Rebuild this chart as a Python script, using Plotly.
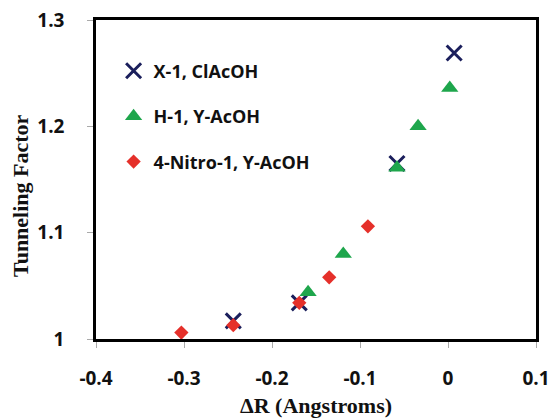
import plotly.graph_objects as go

# Tunneling factor versus change in R, three substrate/solvent series
x1_dr = [-0.244, -0.169, -0.058, 0.007]
x1_tf = [1.017, 1.034, 1.165, 1.269]

h1_dr = [-0.159, -0.119, -0.058, -0.034, 0.002]
h1_tf = [1.044, 1.080, 1.161, 1.200, 1.236]

nitro_dr = [-0.303, -0.244, -0.169, -0.135, -0.091]
nitro_tf = [1.006, 1.013, 1.034, 1.058, 1.106]

x_ticks = [-0.4, -0.3, -0.2, -0.1, 0, 0.1]
x_tick_text = ["-0.4", "-0.3", "-0.2", "-0.1", "0", "0.1"]
y_ticks = [1.0, 1.1, 1.2, 1.3]
y_tick_text = ["1", "1.1", "1.2", "1.3"]

NAVY = "#1b1f5c"
GREEN = "#1ea64c"
RED = "#e5302a"

fig = go.Figure()
fig.add_trace(go.Scatter(
    x=x1_dr, y=x1_tf, mode="markers", name="X-1, ClAcOH", legendgroup="a",
    marker=dict(symbol="x-thin", size=15, line=dict(width=3, color=NAVY), color=NAVY),
))
fig.add_trace(go.Scatter(
    x=h1_dr, y=h1_tf, mode="markers", name="H-1, Y-AcOH", legendgroup="b",
    marker=dict(symbol="triangle-up", size=15, color=GREEN, line=dict(width=0)),
))
fig.add_trace(go.Scatter(
    x=nitro_dr, y=nitro_tf, mode="markers", name="4-Nitro-1, Y-AcOH", legendgroup="c",
    marker=dict(symbol="diamond", size=11, color=RED, line=dict(width=0)),
))

tick_font = dict(family="Open Sans", size=19, color="#111111", weight="bold")
title_font = dict(family="Liberation Serif", size=22, color="#111111", weight="bold")

fig.update_layout(
    width=552, height=418,
    margin=dict(l=96, r=16, t=20, b=79),
    paper_bgcolor="white", plot_bgcolor="white",
    showlegend=True,
    legend=dict(
        x=0.04, y=0.898, xanchor="left", yanchor="top",
        bgcolor="rgba(0,0,0,0)", borderwidth=0,
        font=dict(family="Open Sans", size=18, color="#111111", weight="bold"),
        tracegroupgap=19, itemsizing="trace",
    ),
    xaxis=dict(
        range=[-0.4, 0.1], tickvals=x_ticks, ticktext=x_tick_text,
        showgrid=False, zeroline=False, automargin=False,
        showline=True, linecolor="black", linewidth=2.5, mirror=True,
        ticks="outside", ticklen=6, tickwidth=1, tickcolor="#aaaaaa",
        tickfont=tick_font, ticklabelstandoff=14,
        title=dict(text="ΔR (Angstroms)", font=title_font, standoff=9),
    ),
    yaxis=dict(
        range=[1.0, 1.3], tickvals=y_ticks, ticktext=y_tick_text,
        showgrid=False, zeroline=False, automargin=False,
        showline=True, linecolor="black", linewidth=2.5, mirror=True,
        ticks="outside", ticklen=6, tickwidth=1, tickcolor="#aaaaaa",
        tickfont=tick_font, ticklabelstandoff=19,
    ),
    annotations=[dict(
        text="Tunneling Factor", font=title_font, textangle=-90,
        xref="paper", yref="paper", x=-0.173, y=0.451,
        xanchor="center", yanchor="middle", showarrow=False,
    )],
)

fig.write_html("out.html")
